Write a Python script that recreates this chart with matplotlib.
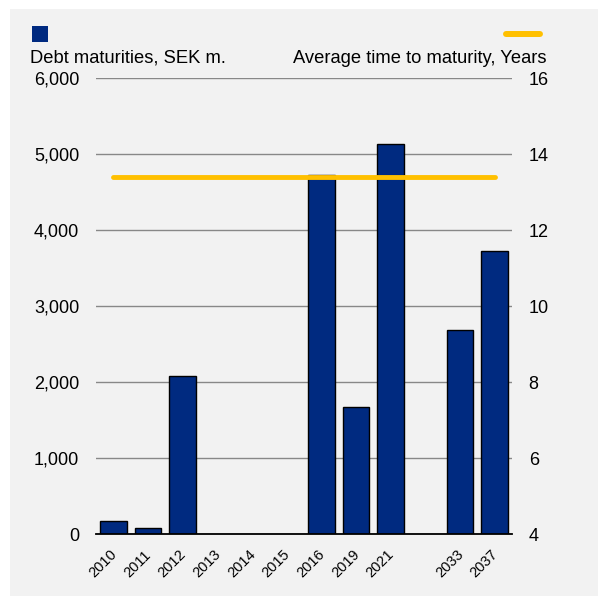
import matplotlib
matplotlib.use("Agg")
import matplotlib.pyplot as plt
from matplotlib.patches import Rectangle
from matplotlib.lines import Line2D
import numpy as np

# ---- data ----
categories = ['2010', '2011', '2012', '2013', '2014', '2015', '2016', '2019', '2021', '', '2033', '2037']
debt_maturities = [175, 88, 2085, None, None, None, 4730, 1675, 5135, None, 2690, 3725]
avg_time_years = [13.4, 13.4, 13.4, 13.4, 13.4, 13.4, 13.4, 13.4, 13.4, 13.4, 13.4, 13.4]
left_ticks = [0, 1000, 2000, 3000, 4000, 5000, 6000]
right_ticks = [4, 6, 8, 10, 12, 14, 16]

bar_label = 'Debt maturities, SEK m.'
line_label = 'Average time to maturity, Years'

NAVY = '#002a80'
YELLOW = '#ffc000'
BG = '#f2f2f2'

plt.rcParams['font.family'] = ['Liberation Sans', 'DejaVu Sans']

W, H = 598, 596
fig = plt.figure(figsize=(W / 100, H / 100), dpi=100)
fig.patch.set_facecolor('white')

def fx(px):
    return px / W

def fy(py):
    return 1 - py / H

# gray panel
fig.patches.append(Rectangle((fx(10), 0), 1 - fx(10), fy(9), transform=fig.transFigure,
                             facecolor=BG, edgecolor='none', zorder=-10))

ax = fig.add_axes([fx(96), fy(534.3), fx(512) - fx(96), fy(78.3) - fy(534.3)])
ax.set_facecolor('none')
ax2 = ax.twinx()
ax2.set_facecolor('none')

x = np.arange(len(categories))
bx = [i for i, v in zip(x, debt_maturities) if v is not None]
bv = [v for v in debt_maturities if v is not None]
ax.bar(bx, bv, width=0.77, color=NAVY, edgecolor='black', linewidth=1.0, zorder=3)

ax.set_xlim(-0.5, len(categories) - 0.5)
ax.set_ylim(0, 6000)
ax.set_yticks(left_ticks)
ax.set_yticklabels([f'{t:,}' for t in left_ticks])
# labels nudged slightly left of bar centres (as in the reference)
ax.set_xticks(x - 0.11)
ax.set_xticklabels(categories, rotation=45, ha='right', va='top',
                   rotation_mode='anchor', fontsize=10.5)
ax.tick_params(axis='x', length=0, pad=9.5)
ax.tick_params(axis='y', length=0, pad=12, labelsize=13)
ax.grid(axis='y', color='#888888', linewidth=1.0, zorder=0)
ax.set_axisbelow(True)
for s in ['top', 'left', 'right']:
    ax.spines[s].set_visible(False)
ax.spines['bottom'].set_color('black')
ax.spines['bottom'].set_linewidth(1.3)
ax.spines['bottom'].set_zorder(5)

ax2.plot(x, avg_time_years, color=YELLOW, linewidth=3.5, solid_capstyle='round', zorder=4)
ax2.set_ylim(4, 16)
ax2.set_yticks(right_ticks)
ax2.tick_params(axis='y', length=0, pad=12, labelsize=13)
for s in ['top', 'left', 'right', 'bottom']:
    ax2.spines[s].set_visible(False)

# legend (manual)
fig.patches.append(Rectangle((fx(32), fy(42)), fx(48) - fx(32), fy(26) - fy(42),
                             transform=fig.transFigure, facecolor=NAVY, edgecolor='none', zorder=2))
fig.lines.append(Line2D([fx(506), fx(540)], [fy(34.3), fy(34.3)], transform=fig.transFigure,
                        color=YELLOW, linewidth=4.3, solid_capstyle='round'))
fig.text(fx(30), fy(62.7), bar_label, fontsize=13.2, ha='left', va='baseline')
fig.text(fx(546.5), fy(62.7), line_label, fontsize=13.2, ha='right', va='baseline')

fig.savefig('out.png', dpi=100, facecolor=fig.get_facecolor())
